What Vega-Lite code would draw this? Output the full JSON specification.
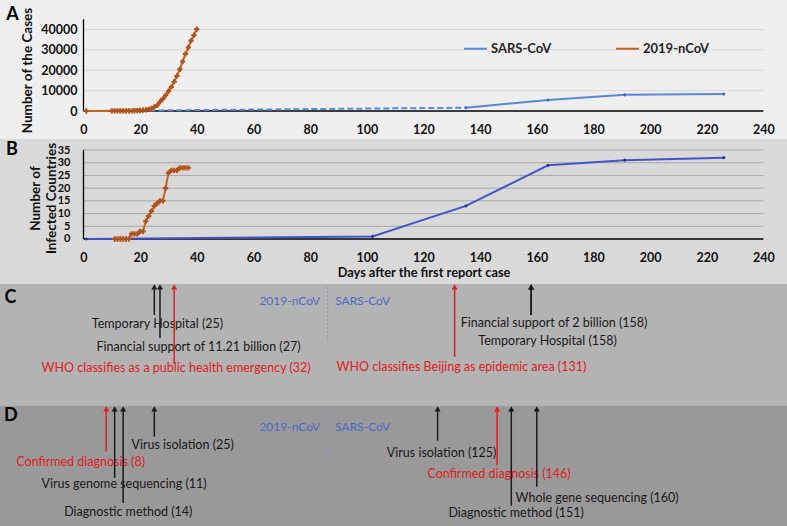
{
  "$schema": "https://vega.github.io/schema/vega-lite/v6.json",
  "padding": 0,
  "spacing": 0,
  "background": "#ffffff",
  "resolve": {"scale": {"x": "independent", "y": "independent", "color": "independent"}},
  "datasets": {
    "cases": [
      {"virus": "2019-nCoV", "day": 1, "value": 0},
      {"virus": "2019-nCoV", "day": 10, "value": 41},
      {"virus": "2019-nCoV", "day": 11, "value": 41},
      {"virus": "2019-nCoV", "day": 12, "value": 41},
      {"virus": "2019-nCoV", "day": 13, "value": 41},
      {"virus": "2019-nCoV", "day": 14, "value": 41},
      {"virus": "2019-nCoV", "day": 15, "value": 41},
      {"virus": "2019-nCoV", "day": 16, "value": 45},
      {"virus": "2019-nCoV", "day": 17, "value": 62},
      {"virus": "2019-nCoV", "day": 18, "value": 121},
      {"virus": "2019-nCoV", "day": 19, "value": 198},
      {"virus": "2019-nCoV", "day": 20, "value": 291},
      {"virus": "2019-nCoV", "day": 21, "value": 440},
      {"virus": "2019-nCoV", "day": 22, "value": 571},
      {"virus": "2019-nCoV", "day": 23, "value": 830},
      {"virus": "2019-nCoV", "day": 24, "value": 1287},
      {"virus": "2019-nCoV", "day": 25, "value": 1975},
      {"virus": "2019-nCoV", "day": 26, "value": 2744},
      {"virus": "2019-nCoV", "day": 27, "value": 4515},
      {"virus": "2019-nCoV", "day": 28, "value": 5974},
      {"virus": "2019-nCoV", "day": 29, "value": 7711},
      {"virus": "2019-nCoV", "day": 30, "value": 9692},
      {"virus": "2019-nCoV", "day": 31, "value": 11791},
      {"virus": "2019-nCoV", "day": 32, "value": 14380},
      {"virus": "2019-nCoV", "day": 33, "value": 17205},
      {"virus": "2019-nCoV", "day": 34, "value": 20438},
      {"virus": "2019-nCoV", "day": 35, "value": 24324},
      {"virus": "2019-nCoV", "day": 36, "value": 28018},
      {"virus": "2019-nCoV", "day": 37, "value": 31161},
      {"virus": "2019-nCoV", "day": 38, "value": 34546},
      {"virus": "2019-nCoV", "day": 39, "value": 37198},
      {"virus": "2019-nCoV", "day": 40, "value": 40171},
      {"virus": "SARS-CoV", "day": 1, "value": 0},
      {"virus": "SARS-CoV", "day": 135, "value": 1600},
      {"virus": "SARS-CoV", "day": 164, "value": 5400},
      {"virus": "SARS-CoV", "day": 191, "value": 7950},
      {"virus": "SARS-CoV", "day": 226, "value": 8300}
    ],
    "countries": [
      {"virus": "SARS-CoV", "day": 1, "value": 0},
      {"virus": "SARS-CoV", "day": 102, "value": 1},
      {"virus": "SARS-CoV", "day": 135, "value": 13},
      {"virus": "SARS-CoV", "day": 164, "value": 29},
      {"virus": "SARS-CoV", "day": 191, "value": 31},
      {"virus": "SARS-CoV", "day": 226, "value": 32},
      {"virus": "2019-nCoV", "day": 11, "value": 0},
      {"virus": "2019-nCoV", "day": 12, "value": 0},
      {"virus": "2019-nCoV", "day": 13, "value": 0},
      {"virus": "2019-nCoV", "day": 14, "value": 0},
      {"virus": "2019-nCoV", "day": 15, "value": 0},
      {"virus": "2019-nCoV", "day": 16, "value": 0},
      {"virus": "2019-nCoV", "day": 17, "value": 2},
      {"virus": "2019-nCoV", "day": 18, "value": 2},
      {"virus": "2019-nCoV", "day": 19, "value": 2},
      {"virus": "2019-nCoV", "day": 20, "value": 3},
      {"virus": "2019-nCoV", "day": 21, "value": 3},
      {"virus": "2019-nCoV", "day": 22, "value": 7},
      {"virus": "2019-nCoV", "day": 23, "value": 9},
      {"virus": "2019-nCoV", "day": 24, "value": 11},
      {"virus": "2019-nCoV", "day": 25, "value": 13},
      {"virus": "2019-nCoV", "day": 26, "value": 14},
      {"virus": "2019-nCoV", "day": 27, "value": 15},
      {"virus": "2019-nCoV", "day": 28, "value": 15},
      {"virus": "2019-nCoV", "day": 29, "value": 20},
      {"virus": "2019-nCoV", "day": 30, "value": 26},
      {"virus": "2019-nCoV", "day": 31, "value": 27},
      {"virus": "2019-nCoV", "day": 32, "value": 27},
      {"virus": "2019-nCoV", "day": 33, "value": 27},
      {"virus": "2019-nCoV", "day": 34, "value": 28},
      {"virus": "2019-nCoV", "day": 35, "value": 28},
      {"virus": "2019-nCoV", "day": 36, "value": 28},
      {"virus": "2019-nCoV", "day": 37, "value": 28}
    ],
    "eventsC": [
      {"label": "Temporary Hospital (25)", "day": 25, "tip": 3, "arrowEnd": 25.4, "labelDay": 26.1, "labelLevel": 32.8, "kind": "other"},
      {"label": "Financial support of 11.21 billion (27)", "day": 27, "tip": 3, "arrowEnd": 44.3, "labelDay": 40.6, "labelLevel": 51.4, "kind": "other"},
      {"label": "WHO classifies as a public health emergency (32)", "day": 32, "tip": 3, "arrowEnd": 65.6, "labelDay": 32.7, "labelLevel": 68.9, "kind": "key"},
      {"label": "WHO classifies Beijing as epidemic area (131)", "day": 131, "tip": 3, "arrowEnd": 59.8, "labelDay": 133.4, "labelLevel": 68, "kind": "key"},
      {"label": "Financial support of 2 billion (158)", "day": 158, "tip": 3, "arrowEnd": 25.4, "labelDay": 166.1, "labelLevel": 32.2, "kind": "other"},
      {"label": "Temporary Hospital (158)", "day": 158, "tip": 3, "arrowEnd": 25.4, "labelDay": 163.8, "labelLevel": 46.7, "kind": "other"}
    ],
    "eventsD": [
      {"label": "Confirmed diagnosis (8)", "day": 8, "tip": 3, "arrowEnd": 38, "labelDay": -1.0, "labelLevel": 46.4, "kind": "key"},
      {"label": "Virus genome sequencing (11)", "day": 11, "tip": 3, "arrowEnd": 59.8, "labelDay": 14.3, "labelLevel": 65, "kind": "other"},
      {"label": "Diagnostic method (14)", "day": 14, "tip": 3, "arrowEnd": 80.8, "labelDay": 15.8, "labelLevel": 88.6, "kind": "other"},
      {"label": "Virus isolation (25)", "day": 25, "tip": 3, "arrowEnd": 25.6, "labelDay": 35, "labelLevel": 32.5, "kind": "other"},
      {"label": "Virus isolation (125)", "day": 125, "tip": 3, "arrowEnd": 28.9, "labelDay": 126.4, "labelLevel": 39.4, "kind": "other"},
      {"label": "Confirmed diagnosis (146)", "day": 146, "tip": 3, "arrowEnd": 49.2, "labelDay": 146.7, "labelLevel": 56.7, "kind": "key"},
      {"label": "Diagnostic method (151)", "day": 151, "tip": 3, "arrowEnd": 83, "labelDay": 152.7, "labelLevel": 89.4, "kind": "other"},
      {"label": "Whole gene sequencing (160)", "day": 160, "tip": 3, "arrowEnd": 67.3, "labelDay": 181.3, "labelLevel": 76.9, "kind": "other"}
    ]
  },
  "vconcat": [
    {
      "width": 787,
      "height": 139,
      "data": {"name": "cases"},
      "layer": [
        {
          "data": {"values": [{"x0": -29.47, "x1": 248.32, "y0": -13742, "y1": 54479}]},
          "mark": {"type": "rect", "color": "#efefef"},
          "encoding": {
            "x": {"field": "x0", "type": "quantitative",
              "scale": {"domain": [-29.47, 248.32], "nice": false, "zero": false},
              "axis": {"values": [0, 20, 40, 60, 80, 100, 120, 140, 160, 180, 200, 220, 240], "tickCount": 40, "offset": -28, "zindex": 2, "domain": false, "ticks": false, "tickSize": 0, "grid": false, "labelPadding": 12, "labelFlush": false, "labelOverlap": false, "format": "d", "title": null}},
            "x2": {"field": "x1"},
            "y": {"field": "y0", "type": "quantitative",
              "scale": {"domain": [-13742, 54479], "nice": false, "zero": false},
              "axis": {"values": [0, 10000, 20000, 30000, 40000], "tickCount": 20, "offset": -83.5, "zindex": 2, "domain": false, "ticks": false, "tickSize": 0, "grid": false, "labelPadding": 6.5, "labelOverlap": false, "labelFlush": false, "format": "d", "title": "Number of the Cases", "titleFontSize": 13.5, "titleX": -56.5, "titleY": 70, "titleBaseline": "middle", "titleAlign": "center", "titleAngle": 270}},
            "y2": {"field": "y1"}
          }
        },
        {
          "data": {"values": [{"v": 10000, "from": 0, "to": 240}, {"v": 20000, "from": 0, "to": 240}, {"v": 30000, "from": 0, "to": 240}, {"v": 40000, "from": 0, "to": 240}]},
          "mark": {"type": "rule", "color": "#d9d9d9", "strokeWidth": 1},
          "encoding": {"y": {"field": "v", "type": "quantitative"}, "x": {"field": "from", "type": "quantitative"}, "x2": {"field": "to"}}
        },
        {
          "data": {"values": [{"v": 0, "from": 0, "to": 240}]},
          "mark": {"type": "rule", "color": "#000000", "strokeWidth": 1.3},
          "encoding": {"y": {"field": "v", "type": "quantitative"}, "x": {"field": "from", "type": "quantitative"}, "x2": {"field": "to"}}
        },
        {
          "data": {"values": [{"x": 0, "lo": 0, "hi": 45000}]},
          "mark": {"type": "rule", "color": "#000000", "strokeWidth": 1.3},
          "encoding": {"x": {"field": "x", "type": "quantitative"}, "y": {"field": "lo", "type": "quantitative"}, "y2": {"field": "hi"}}
        },
        {
          "transform": [{"filter": "datum.virus == 'SARS-CoV' && datum.day <= 135"}],
          "mark": {"type": "line", "color": "#5b87d6", "strokeWidth": 2, "strokeDash": [6, 3]},
          "encoding": {"x": {"field": "day", "type": "quantitative"}, "y": {"field": "value", "type": "quantitative"}}
        },
        {
          "transform": [{"filter": "datum.virus == '2019-nCoV' || datum.day >= 135"}],
          "mark": {"type": "line", "strokeWidth": 2},
          "encoding": {
            "x": {"field": "day", "type": "quantitative"},
            "y": {"field": "value", "type": "quantitative"},
            "color": {"field": "virus", "type": "nominal",
              "scale": {"domain": ["SARS-CoV", "2019-nCoV"], "range": ["#5b87d6", "#c5631f"]},
              "legend": {"title": null, "orient": "none", "legendX": 463, "legendY": 36, "direction": "horizontal", "symbolType": "stroke", "symbolSize": 529, "symbolStrokeWidth": 2, "labelFont": "Lato", "labelFontSize": 13, "labelFontWeight": "bold", "labelColor": "#262626", "labelOffset": 3, "columnPadding": 60}}
          }
        },
        {
          "transform": [{"filter": "datum.virus == 'SARS-CoV' && datum.day >= 135"}],
          "mark": {"type": "point", "shape": "diamond", "filled": true, "size": 14, "color": "#3c68c0", "opacity": 1},
          "encoding": {"x": {"field": "day", "type": "quantitative"}, "y": {"field": "value", "type": "quantitative"}}
        },
        {
          "transform": [{"filter": "datum.virus == '2019-nCoV'"}],
          "mark": {"type": "point", "shape": "cross", "filled": true, "size": 28, "color": "#b0521a", "opacity": 1},
          "encoding": {"x": {"field": "day", "type": "quantitative"}, "y": {"field": "value", "type": "quantitative"}}
        },
        {
          "data": {"values": [{"t": "A"}]},
          "mark": {"type": "text", "font": "Lato", "fontSize": 18, "fontWeight": "bold", "color": "#000000", "align": "center", "baseline": "middle"},
          "encoding": {"text": {"field": "t", "type": "nominal"}, "x": {"datum": -25.06, "type": "quantitative"}, "y": {"datum": 46969, "type": "quantitative"}}
        }
      ]
    },
    {
      "width": 787,
      "height": 145,
      "data": {"name": "countries"},
      "layer": [
        {
          "data": {"values": [{"x0": -29.47, "x1": 248.32, "y0": -17.70, "y1": 39.33}]},
          "mark": {"type": "rect", "color": "#d9d9d9"},
          "encoding": {
            "x": {"field": "x0", "type": "quantitative",
              "scale": {"domain": [-29.47, 248.32], "nice": false, "zero": false},
              "axis": {"values": [0, 20, 40, 60, 80, 100, 120, 140, 160, 180, 200, 220, 240], "tickCount": 40, "offset": -45, "zindex": 2, "domain": false, "ticks": false, "tickSize": 0, "grid": false, "labelPadding": 12, "labelFlush": false, "labelOverlap": false, "format": "d", "title": "Days after the first report case", "titleFontSize": 12.8, "titleX": 423.5, "titleY": 33, "titleBaseline": "middle"}},
            "x2": {"field": "x1"},
            "y": {"field": "y0", "type": "quantitative",
              "scale": {"domain": [-17.70, 39.33], "nice": false, "zero": false},
              "axis": {"values": [0, 5, 10, 15, 20, 25, 30, 35], "tickCount": 20, "offset": -83.5, "zindex": 2, "domain": false, "ticks": false, "tickSize": 0, "grid": false, "labelFontSize": 11, "labelPadding": 13.5, "labelOverlap": false, "labelFlush": false, "format": "d", "title": ["Number of", "Infected Countries"], "titleFontSize": 13.5, "titleX": -48.5, "titleY": 59, "titleBaseline": "middle", "titleAlign": "center", "titleAngle": 270, "titleLineHeight": 16}},
            "y2": {"field": "y1"}
          }
        },
        {
          "data": {"values": [{"v": 5, "from": 0, "to": 240}, {"v": 10, "from": 0, "to": 240}, {"v": 15, "from": 0, "to": 240}, {"v": 20, "from": 0, "to": 240}, {"v": 25, "from": 0, "to": 240}, {"v": 30, "from": 0, "to": 240}, {"v": 35, "from": 0, "to": 240}]},
          "mark": {"type": "rule", "color": "#a8a8a8", "strokeWidth": 1},
          "encoding": {"y": {"field": "v", "type": "quantitative"}, "x": {"field": "from", "type": "quantitative"}, "x2": {"field": "to"}}
        },
        {
          "data": {"values": [{"v": 0, "from": 0, "to": 240}]},
          "mark": {"type": "rule", "color": "#000000", "strokeWidth": 1.3},
          "encoding": {"y": {"field": "v", "type": "quantitative"}, "x": {"field": "from", "type": "quantitative"}, "x2": {"field": "to"}}
        },
        {
          "data": {"values": [{"x": 0, "lo": 0, "hi": 35}]},
          "mark": {"type": "rule", "color": "#000000", "strokeWidth": 1.3},
          "encoding": {"x": {"field": "x", "type": "quantitative"}, "y": {"field": "lo", "type": "quantitative"}, "y2": {"field": "hi"}}
        },
        {
          "transform": [{"filter": "datum.virus == 'SARS-CoV'"}],
          "mark": {"type": "line", "color": "#4256c6", "strokeWidth": 2},
          "encoding": {"x": {"field": "day", "type": "quantitative"}, "y": {"field": "value", "type": "quantitative"}}
        },
        {
          "transform": [{"filter": "datum.virus == 'SARS-CoV'"}],
          "mark": {"type": "point", "shape": "diamond", "filled": true, "size": 14, "color": "#26338a", "opacity": 1},
          "encoding": {"x": {"field": "day", "type": "quantitative"}, "y": {"field": "value", "type": "quantitative"}}
        },
        {
          "transform": [{"filter": "datum.virus == '2019-nCoV'"}],
          "mark": {"type": "line", "color": "#c5631f", "strokeWidth": 2},
          "encoding": {"x": {"field": "day", "type": "quantitative"}, "y": {"field": "value", "type": "quantitative"}}
        },
        {
          "transform": [{"filter": "datum.virus == '2019-nCoV'"}],
          "mark": {"type": "point", "shape": "cross", "filled": true, "size": 28, "color": "#b0521a", "opacity": 1},
          "encoding": {"x": {"field": "day", "type": "quantitative"}, "y": {"field": "value", "type": "quantitative"}}
        },
        {
          "data": {"values": [{"t": "B"}]},
          "mark": {"type": "text", "font": "Lato", "fontSize": 18, "fontWeight": "bold", "color": "#000000", "align": "center", "baseline": "middle"},
          "encoding": {"text": {"field": "t", "type": "nominal"}, "x": {"datum": -25.3, "type": "quantitative"}, "y": {"datum": 35.0, "type": "quantitative"}}
        }
      ]
    },
    {
      "width": 787,
      "height": 122,
      "data": {"name": "eventsC"},
      "layer": [
        {
          "data": {"values": [{"x0": -29.47, "x1": 248.32, "y0": 0, "y1": 100}]},
          "mark": {"type": "rect", "color": "#b3b3b3"},
          "encoding": {
            "x": {"field": "x0", "type": "quantitative", "scale": {"domain": [-29.47, 248.32], "nice": false, "zero": false}, "axis": null},
            "x2": {"field": "x1"},
            "y": {"field": "y0", "type": "quantitative", "scale": {"domain": [0, 100], "reverse": true, "nice": false, "zero": false}, "axis": null},
            "y2": {"field": "y1"}
          }
        },
        {
          "mark": {"type": "text", "font": "Lato", "fontSize": 12.5, "align": "center", "baseline": "middle"},
          "encoding": {
            "x": {"field": "labelDay", "type": "quantitative"},
            "y": {"field": "labelLevel", "type": "quantitative"},
            "text": {"field": "label", "type": "nominal"},
            "color": {"field": "kind", "type": "nominal", "scale": {"domain": ["key", "other"], "range": ["#e0201e", "#1a1a1a"]}, "legend": null}
          }
        },
        {
          "mark": {"type": "rule", "strokeWidth": 1.5},
          "encoding": {
            "x": {"field": "day", "type": "quantitative"},
            "y": {"field": "tip", "type": "quantitative"},
            "y2": {"field": "arrowEnd"},
            "color": {"field": "kind", "type": "nominal", "legend": null}
          }
        },
        {
          "mark": {"type": "point", "shape": "triangle-up", "filled": true, "size": 36, "opacity": 1},
          "encoding": {
            "x": {"field": "day", "type": "quantitative"},
            "y": {"datum": 2.4, "type": "quantitative"},
            "color": {"field": "kind", "type": "nominal", "legend": null}
          }
        },
        {
          "data": {"values": [{"x": 86.2, "lo": 2.5, "hi": 45.9}]},
          "mark": {"type": "rule", "color": "#7a94d0", "strokeWidth": 1, "strokeDash": [2, 2]},
          "encoding": {"x": {"field": "x", "type": "quantitative"}, "y": {"field": "lo", "type": "quantitative"}, "y2": {"field": "hi"}}
        },
        {
          "data": {"values": [{"t": "2019-nCoV"}]},
          "mark": {"type": "text", "font": "Lato", "fontSize": 12, "color": "#4a6cc8", "align": "right", "baseline": "middle", "dx": -7.5},
          "encoding": {"text": {"field": "t", "type": "nominal"}, "x": {"datum": 86.2, "type": "quantitative"}, "y": {"datum": 13.7, "type": "quantitative"}}
        },
        {
          "data": {"values": [{"t": "SARS-CoV"}]},
          "mark": {"type": "text", "font": "Lato", "fontSize": 12, "color": "#4a6cc8", "align": "left", "baseline": "middle", "dx": 7.5},
          "encoding": {"text": {"field": "t", "type": "nominal"}, "x": {"datum": 86.2, "type": "quantitative"}, "y": {"datum": 13.7, "type": "quantitative"}}
        },
        {
          "data": {"values": [{"t": "C"}]},
          "mark": {"type": "text", "font": "Lato", "fontSize": 18, "fontWeight": "bold", "color": "#000000", "align": "center", "baseline": "middle"},
          "encoding": {"text": {"field": "t", "type": "nominal"}, "x": {"datum": -25.8, "type": "quantitative"}, "y": {"datum": 11.7, "type": "quantitative"}}
        }
      ]
    },
    {
      "width": 787,
      "height": 120,
      "data": {"name": "eventsD"},
      "layer": [
        {
          "data": {"values": [{"x0": -29.47, "x1": 248.32, "y0": 0, "y1": 100}]},
          "mark": {"type": "rect", "color": "#999999"},
          "encoding": {
            "x": {"field": "x0", "type": "quantitative", "scale": {"domain": [-29.47, 248.32], "nice": false, "zero": false}, "axis": null},
            "x2": {"field": "x1"},
            "y": {"field": "y0", "type": "quantitative", "scale": {"domain": [0, 100], "reverse": true, "nice": false, "zero": false}, "axis": null},
            "y2": {"field": "y1"}
          }
        },
        {
          "mark": {"type": "text", "font": "Lato", "fontSize": 12.5, "align": "center", "baseline": "middle"},
          "encoding": {
            "x": {"field": "labelDay", "type": "quantitative"},
            "y": {"field": "labelLevel", "type": "quantitative"},
            "text": {"field": "label", "type": "nominal"},
            "color": {"field": "kind", "type": "nominal", "scale": {"domain": ["key", "other"], "range": ["#e0201e", "#1a1a1a"]}, "legend": null}
          }
        },
        {
          "mark": {"type": "rule", "strokeWidth": 1.5},
          "encoding": {
            "x": {"field": "day", "type": "quantitative"},
            "y": {"field": "tip", "type": "quantitative"},
            "y2": {"field": "arrowEnd"},
            "color": {"field": "kind", "type": "nominal", "legend": null}
          }
        },
        {
          "mark": {"type": "point", "shape": "triangle-up", "filled": true, "size": 36, "opacity": 1},
          "encoding": {
            "x": {"field": "day", "type": "quantitative"},
            "y": {"datum": 2.4, "type": "quantitative"},
            "color": {"field": "kind", "type": "nominal", "legend": null}
          }
        },
        {
          "data": {"values": [{"x": 86.2, "lo": 1.7, "hi": 40.8}]},
          "mark": {"type": "rule", "color": "#7a94d0", "strokeWidth": 1, "strokeDash": [2, 2]},
          "encoding": {"x": {"field": "x", "type": "quantitative"}, "y": {"field": "lo", "type": "quantitative"}, "y2": {"field": "hi"}}
        },
        {
          "data": {"values": [{"t": "2019-nCoV"}]},
          "mark": {"type": "text", "font": "Lato", "fontSize": 12, "color": "#4a6cc8", "align": "right", "baseline": "middle", "dx": -7.5},
          "encoding": {"text": {"field": "t", "type": "nominal"}, "x": {"datum": 86.2, "type": "quantitative"}, "y": {"datum": 17.2, "type": "quantitative"}}
        },
        {
          "data": {"values": [{"t": "SARS-CoV"}]},
          "mark": {"type": "text", "font": "Lato", "fontSize": 12, "color": "#4a6cc8", "align": "left", "baseline": "middle", "dx": 7.5},
          "encoding": {"text": {"field": "t", "type": "nominal"}, "x": {"datum": 86.2, "type": "quantitative"}, "y": {"datum": 17.2, "type": "quantitative"}}
        },
        {
          "data": {"values": [{"t": "D"}]},
          "mark": {"type": "text", "font": "Lato", "fontSize": 18, "fontWeight": "bold", "color": "#000000", "align": "center", "baseline": "middle"},
          "encoding": {"text": {"field": "t", "type": "nominal"}, "x": {"datum": -25.6, "type": "quantitative"}, "y": {"datum": 8.6, "type": "quantitative"}}
        }
      ]
    }
  ],
  "config": {
    "view": {"stroke": null},
    "font": "Lato",
    "axis": {
      "labelFont": "Lato",
      "labelFontSize": 12.5,
      "labelFontWeight": "bold",
      "labelColor": "#111111",
      "labelOverlap": false,
      "labelFlush": false,
      "titleFont": "Lato",
      "titleFontSize": 12.8,
      "titleFontWeight": "bold",
      "titleColor": "#111111"
    }
  }
}
